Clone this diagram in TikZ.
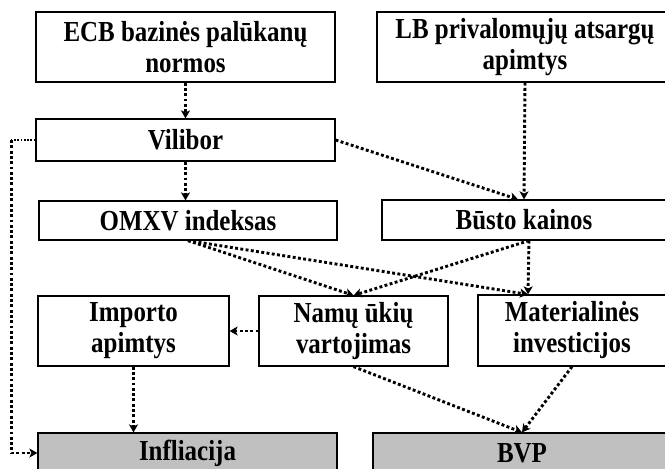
\documentclass[tikz,border=0pt]{standalone}
\usepackage{fontspec}
\setmainfont{Liberation Serif}[FakeStretch=0.86]
\usetikzlibrary{arrows.meta}
\definecolor{outfill}{RGB}{192,192,192}
\begin{document}
\begin{tikzpicture}[x=1pt,y=-1pt,
  box/.style 2 args={draw, line width=1.2pt, minimum width=#1pt, minimum height=#2pt,
    inner sep=0pt, align=center, font=\fontsize{29}{31}\selectfont\bfseries},
  outbox/.style={fill=outfill},
  conn/.style={line width=2.9pt, dash pattern=on 2.9pt off 2.4pt,
    -{Stealth[length=8pt,width=9pt,inset=2pt]}},
  thinconn/.style={line width=1.7pt, dash pattern=on 1.7pt off 1.6pt}
]
\useasboundingbox (0,0) rectangle (665,469);
\clip (0,0) rectangle (665,469);

\node[box={299}{70}] (ecb) at (185.5,47) {ECB bazinės palūkanų\\normos};
\node[box={296}{70}] (lb) at (525,47) {LB privalomųjų atsargų\\apimtys};
\node[box={299}{42}] (vil) at (185.5,140) {Vilibor};
\node[box={298}{39}] (omxv) at (188,220.5) {OMXV indeksas};
\node[box={284}{40}] (busto) at (524,220) {Būsto kainos};
\node[box={191}{70}] (imp) at (133.5,331) {Importo\\apimtys};
\node[box={189}{70}] (nam) at (353.5,331) {Namų ūkių\\vartojimas};
\node[box={188}{71}] (mat) at (572,330.5) {Materialinės\\investicijos};
\node[box={299}{40},outbox] (inf) at (187.5,453) {Infliacija};
\node[box={298}{40},outbox] (bvp) at (522,453) {BVP};

\coordinate (bustoin) at ([xshift=-6pt]busto.north);
\coordinate (bustoout) at ([xshift=5pt]busto.south);
\coordinate (matin) at ([xshift=-44pt]mat.north);
\coordinate (leftturn) at ([xshift=-24pt]vil.west);

\draw[conn] (ecb.south) -- (vil.north);
\draw[conn] (vil.south) -- (vil.south |- omxv.north);
\draw[conn] (vil.east) -- (bustoin);
\draw[conn] (lb.south) -- (busto.north);
\draw[conn] (omxv.south) -- (nam.north);
\draw[conn] (omxv.south) -- (matin);
\draw[conn] (bustoout) -- (nam.north);
\draw[conn] (bustoout) -- (matin);
\draw[conn] (nam.west) -- (imp.east);
\draw[conn] (imp.south) -- (imp.south |- inf.north);
\draw[thinconn] (vil.west) -- (leftturn);
\draw[conn] (leftturn) |- (inf.west);
\draw[conn] (nam.south) -- (bvp.north);
\draw[conn] (mat.south) -- (bvp.north);
\end{tikzpicture}
\end{document}
